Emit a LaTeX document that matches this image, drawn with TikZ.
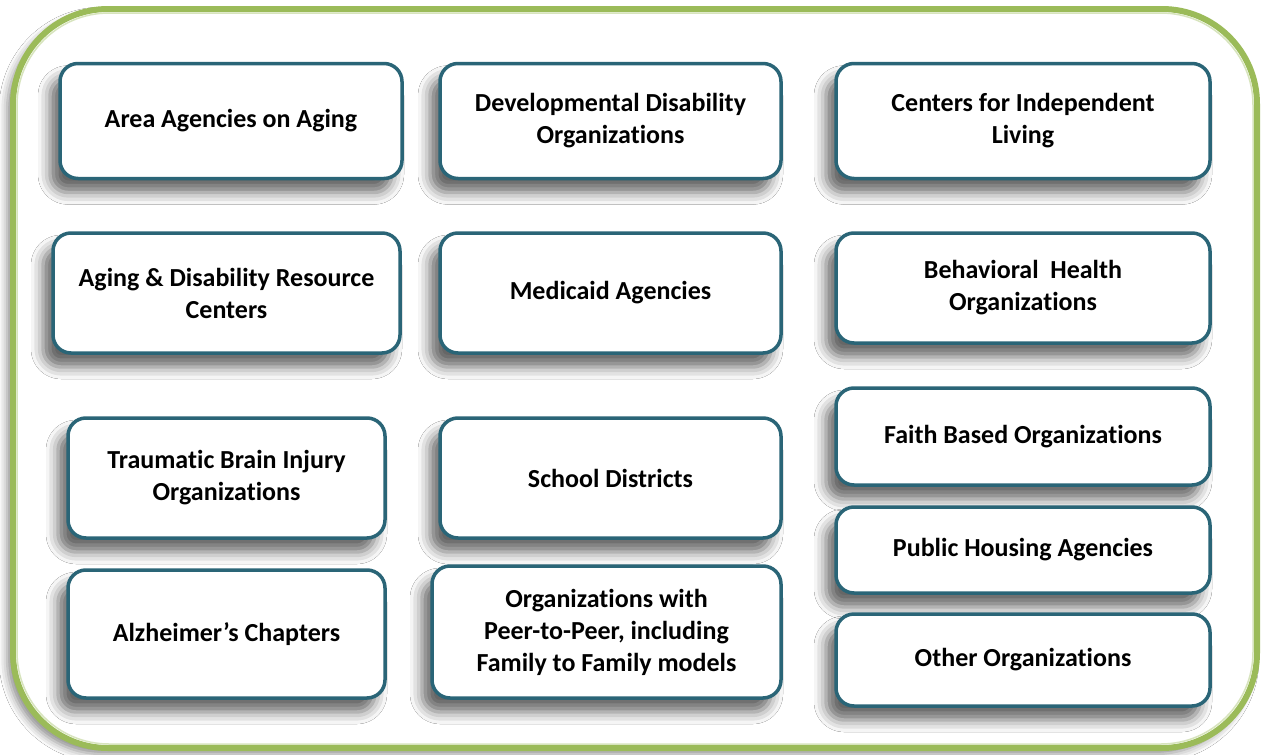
\documentclass[tikz,border=0pt]{standalone}
\usepackage{fontspec}
\setmainfont[Ligatures={NoCommon}]{Carlito}
\usetikzlibrary{shadows.blur}
\definecolor{frame}{HTML}{9BBB59}
\definecolor{framelight}{HTML}{D7E4BD}
\definecolor{boxedge}{HTML}{2A6577}
\begin{document}
\begin{tikzpicture}[x=1pt,y=-1pt,
  orgbox/.style={draw=boxedge, line width=3.5pt, fill=white, rounded corners=18pt,
    align=center, inner sep=4pt, font=\bfseries\fontsize{26}{32}\selectfont,
    blur shadow={shadow xshift=-10pt, shadow yshift=-14pt, shadow blur radius=12pt, shadow opacity=60}},
  framebox/.style={draw=frame, line width=6pt, fill=white, rounded corners=95pt,
    blur shadow={shadow xshift=-6pt, shadow yshift=-6pt, shadow blur radius=8pt, shadow opacity=45}}
]
\fill[white] (0,0) rectangle (1262,755);
\useasboundingbox (0,0) rectangle (1262,755);
\path[framebox] (13,9) rectangle (1257,748);
\draw[framelight, line width=1.5pt, rounded corners=92pt] (17,13) rectangle (1253,744);

\node[orgbox, minimum width=342pt, minimum height=115pt] (aaa) at (231,121) {Area Agencies on Aging};
\node[orgbox, minimum width=341pt, minimum height=115pt] (ddo) at (610.5,121) {Developmental Disability\\Organizations};
\node[orgbox, minimum width=374pt, minimum height=115pt] (cil) at (1023,121) {Centers for Independent\\Living};

\node[orgbox, minimum width=347pt, minimum height=120pt] (adrc) at (226.5,293) {Aging \& Disability Resource\\Centers};
\node[orgbox, minimum width=341pt, minimum height=120pt] (med) at (610.5,293) {Medicaid Agencies};
\node[orgbox, minimum width=374pt, minimum height=110pt] (bho) at (1023,288) {Behavioral\ \ Health\\Organizations};

\node[orgbox, minimum width=317pt, minimum height=120pt] (tbi) at (226.5,478) {Traumatic Brain Injury\\Organizations};
\node[orgbox, minimum width=341pt, minimum height=120pt] (sch) at (610.5,478) {School Districts};
\node[orgbox, minimum width=374pt, minimum height=97pt] (fbo) at (1023,436.5) {Faith Based Organizations};

\node[orgbox, minimum width=317pt, minimum height=128pt] (alz) at (226.5,634) {Alzheimer’s Chapters};
\node[orgbox, minimum width=349pt, minimum height=132pt] (peer) at (606.5,632) {Organizations with\\Peer-to-Peer, including\\Family to Family models};
\node[orgbox, minimum width=374pt, minimum height=86pt] (pha) at (1023,550) {Public Housing Agencies};
\node[orgbox, minimum width=374pt, minimum height=92pt] (oth) at (1023,660) {Other Organizations};
\end{tikzpicture}
\end{document}
